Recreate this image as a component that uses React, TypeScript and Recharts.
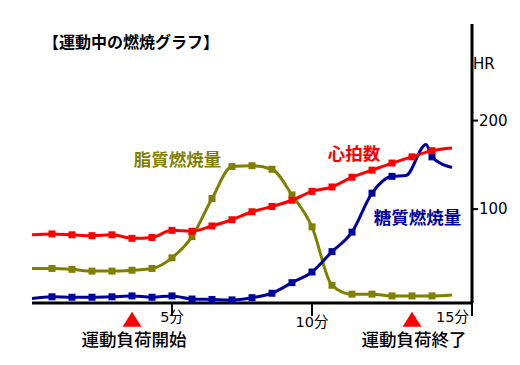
import React from 'react';
import { LineChart, Line, XAxis, YAxis, ReferenceDot, Customized } from 'recharts';

// sample index (one sample every 5/7 min)
const samples = [0, 1, 2, 3, 4, 5, 6, 7, 8, 9, 10, 11, 12, 13, 14, 15, 16, 17, 18, 19, 20, 21];
const heartRate = [71, 72, 71, 70, 71, 67, 68, 76, 75, 81, 88, 97, 103, 110, 120, 125, 136, 144, 152, 159, 166, 169];
const fatBurn = [33, 33, 32, 30, 30, 31, 33, 45, 69, 112, 148, 149, 145, 116, 80, 14, 4, 4, 2, 2, 2, 3];
const sugarSamples = [0, 1, 2, 3, 4, 5, 6, 7, 8, 9, 10, 11, 12, 13, 14, 15, 16, 17, 18, 18.7, 19.7, 20, 21];
const sugarBurn = [-1, 1, 0.5, 0.5, 1, 2, 0.5, 2, -1.5, -2, -2.5, 0, 5, 17, 29, 52, 74, 118, 137, 138, 173, 159, 147];

const xTicks = [7, 14, 22];
const xTickLabels = ['5分', '10分', '15分'];
const hrTicks = [100, 200];
const eventAt = [5, 19];
const eventLabels = ['運動負荷開始', '運動負荷終了'];

const title = '【運動中の燃焼グラフ】';
const seriesNames = ['心拍数', '脂質燃焼量', '糖質燃焼量'];

const RED = '#ff0000';
const OLIVE = '#808000';
const NAVY = '#0000a0';
const JP = "'Noto Sans CJK JP', sans-serif";
const NUM = "'DejaVu Sans', 'Noto Sans CJK JP', sans-serif";

const hrData = samples.map((x, i) => ({ x, v: heartRate[i] }));
const fatData = samples.map((x, i) => ({ x, v: fatBurn[i] }));
const sugarData = sugarSamples.map((x, i) => ({ x, v: sugarBurn[i] }));

const squareDot = (color: string) => (props: any) => {
  const { cx, cy, payload, index } = props;
  const x = payload?.x;
  if (cx == null || cy == null || !Number.isInteger(x) || x < 1 || x > 20) {
    return <g key={`e${index}`} />;
  }
  return <rect key={`d${index}`} x={cx - 3.5} y={cy - 3.5} width={7} height={7} fill={color} />;
};

const XTick = (props: any) => {
  const { x, y, payload, index } = props;
  const i = xTicks.indexOf(payload.value);
  const last = i === xTicks.length - 1;
  const dy = i === 0 ? 4 : i === 1 ? 8.5 : 4;
  return (
    <text
      x={last ? x - 3 : x}
      y={y + dy}
      textAnchor={last ? 'end' : 'middle'}
      fontFamily={NUM}
      fontSize={14.5}
      fill="#000"
      key={index}
    >
      {xTickLabels[i]}
    </text>
  );
};

const EventMark = (label: string) => (props: any) => {
  const { cx, cy } = props;
  if (cx == null) return <g />;
  return (
    <g>
      <polygon points={`${cx},${cy + 14} ${cx - 9.5},${cy + 29} ${cx + 9.5},${cy + 29}`} fill={RED} />
      <text x={cx + 2} y={cy + 48} textAnchor="middle" fontFamily={JP} fontSize={17.5} fontWeight={500} fill="#000">
        {label}
      </text>
    </g>
  );
};

const Overlay = () => (
  <g>
    <text x={35} y={40} fontFamily={JP} fontSize={16} fontWeight="bold" fill="#000">
      {title}
    </text>
    <text x={465} y={60.5} fontFamily={NUM} fontSize={15} fill="#000">
      HR
    </text>
    <text x={346} y={151.5} textAnchor="middle" fontFamily={JP} fontSize={17.5} fontWeight="bold" fill={RED}>
      {seriesNames[0]}
    </text>
    <text x={169.5} y={157.5} textAnchor="middle" fontFamily={JP} fontSize={17.5} fontWeight="bold" fill={OLIVE}>
      {seriesNames[1]}
    </text>
    <text x={409.5} y={215.5} textAnchor="middle" fontFamily={JP} fontSize={17.5} fontWeight="bold" fill={NAVY}>
      {seriesNames[2]}
    </text>
  </g>
);

export default function App() {
  return (
    <div style={{ width: 512, height: 357, background: '#fff' }}>
      <LineChart width={512} height={357} margin={{ top: 16, right: 0, bottom: 0, left: 24 }}>
        <XAxis
          dataKey="x"
          type="number"
          domain={[0, 22]}
          ticks={xTicks}
          tick={<XTick />}
          tickSize={13}
          tickLine={{ stroke: '#000', strokeWidth: 2 }}
          axisLine={{ stroke: '#000', strokeWidth: 3 }}
          height={62}
          allowDecimals
          interval={0}
        />
        <YAxis
          yAxisId="l"
          orientation="left"
          domain={[-6, 309]}
          width={0}
          tick={false}
          tickLine={false}
          axisLine={{ stroke: '#000', strokeWidth: 2.5 }}
        />
        <YAxis
          yAxisId="r"
          orientation="right"
          domain={[-6, 309]}
          ticks={hrTicks}
          width={48}
          tickSize={6}
          tickMargin={1}
          tickLine={{ stroke: '#000', strokeWidth: 2 }}
          axisLine={{ stroke: '#000', strokeWidth: 3 }}
          tick={{ fill: '#000', fontSize: 15, fontFamily: NUM }}
          interval={0}
        />
        <Line
          yAxisId="r"
          data={fatData}
          dataKey="v"
          type="monotone"
          stroke={OLIVE}
          strokeWidth={3}
          dot={squareDot(OLIVE)}
          isAnimationActive={false}
        />
        <Line
          yAxisId="r"
          data={sugarData}
          dataKey="v"
          type="monotone"
          stroke={NAVY}
          strokeWidth={3}
          dot={squareDot(NAVY)}
          isAnimationActive={false}
        />
        <Line
          yAxisId="r"
          data={hrData}
          dataKey="v"
          type="monotone"
          stroke={RED}
          strokeWidth={3}
          dot={squareDot(RED)}
          isAnimationActive={false}
        />
        {eventAt.map((e, i) => (
          <ReferenceDot
            key={i}
            yAxisId="r"
            x={e}
            y={0}
            ifOverflow="visible"
            shape={EventMark(eventLabels[i])}
          />
        ))}
        <Customized component={Overlay} />
      </LineChart>
    </div>
  );
}
